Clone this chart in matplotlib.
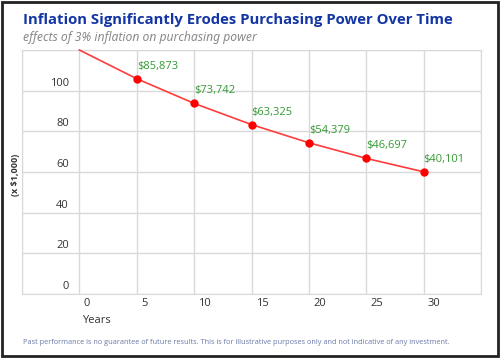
import numpy as np
import matplotlib
matplotlib.use("Agg")
import matplotlib.pyplot as plt
from matplotlib.patches import Rectangle

plt.rcParams['font.family'] = ['Open Sans', 'DejaVu Sans']
plt.rcParams['font.stretch'] = 'normal'

# purchasing power of $100,000 under 3% inflation (in $1,000)
years = [0, 5, 10, 15, 20, 25, 30]
power = [100.0, 85.873, 73.742, 63.325, 54.379, 46.697, 40.101]
point_labels = ['', '$85,873', '$73,742', '$63,325', '$54,379', '$46,697', '$40,101']
ytick_vals = [0, 20, 40, 60, 80, 100]
xtick_vals = [0, 5, 10, 15, 20, 25, 30]

fig = plt.figure(figsize=(5.03, 3.58), dpi=100)
ax = fig.add_axes([22/503, 1-294/358, 459/503, 244/358])

ax.set_xlim(-5, 35)
ax.set_ylim(-20, 100)
ax.set_xticks(np.arange(-5, 36, 5))
ax.set_yticks(np.arange(-20, 101, 20))
ax.tick_params(length=0, labelbottom=False, labelleft=False)
ax.grid(True, color='#d9d9d9', lw=1)
for s in ax.spines.values():
    s.set_color('#d9d9d9')
ax.set_axisbelow(True)

ax.plot(years, power, color='#ff3b3b', lw=1.2, clip_on=False, zorder=3)
ax.plot(years[1:], power[1:], 'o', color='#ff0000', ms=5, zorder=4)
for x, y, lab in zip(years, power, point_labels):
    if lab:
        ax.annotate(lab, (x, y), xytext=(0, 5), textcoords='offset points',
                    ha='left', va='bottom', color='#339933', fontsize=8)

# y labels sit below their gridlines, inside the left margin of the plot
for v in ytick_vals:
    ax.annotate(str(v), (-0.9, v), xytext=(0, -24), textcoords='offset points',
                ha='right', va='center', color='#333333', fontsize=8)
for v in xtick_vals:
    ax.annotate(str(v), (v, -20), xytext=(3, -3), textcoords='offset points',
                ha='left', va='top', color='#333333', fontsize=8)
ax.annotate('Years', (0, -20), xytext=(2, -15), textcoords='offset points',
            ha='left', va='top', color='#333333', fontsize=8)

fig.text(15/503, 1-175/358, '(x $1,000)', rotation=90, ha='center', va='center',
         fontsize=6.5, fontweight='bold', color='#333333')

fig.text(23/503, 1-20/358, 'Inflation Significantly Erodes Purchasing Power Over Time',
         ha='left', va='center', fontsize=10.75, fontweight='bold', color='#1436a4')
fig.text(23/503, 1-38/358, 'effects of 3% inflation on purchasing power',
         ha='left', va='center', fontsize=8.75, style='italic', color='#8a8a8a',
         family=['Noto Sans', 'DejaVu Sans'])
fig.text(23/503, 1-343/358,
         'Past performance is no guarantee of future results. This is for illustrative purposes only and not indicative of any investment.',
         ha='left', va='center', fontsize=5.3, color='#6a7aa8')

fig.patches.append(Rectangle((0.003, 0.005), 0.988, 0.99, transform=fig.transFigure,
                             fill=False, edgecolor='#222222', lw=2))

fig.savefig('out.png', dpi=100)
